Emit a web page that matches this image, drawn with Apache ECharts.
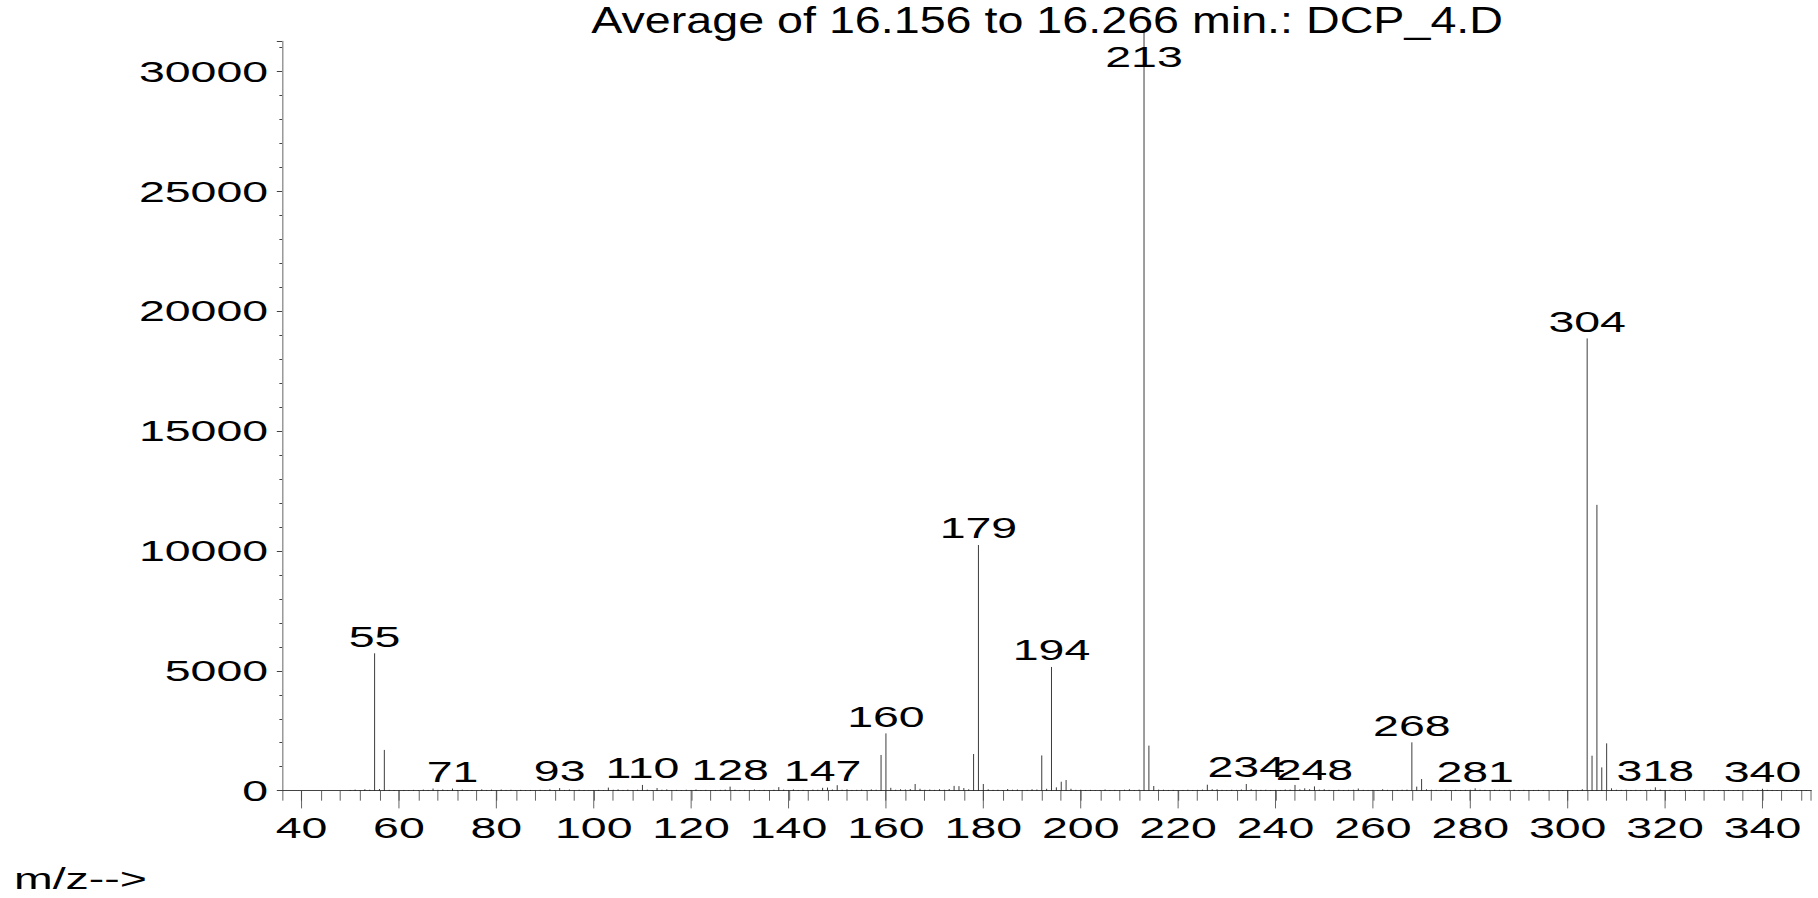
<!DOCTYPE html>
<html>
<head>
<meta charset="utf-8">
<script src="https://cdn.jsdelivr.net/npm/echarts@6/dist/echarts.min.js"></script>
<style>
html, body { margin: 0; padding: 0; background: #fff; overflow: hidden; width: 1818px; height: 898px; }
#chart { width: 1173px; height: 898px; transform: scaleX(1.549872); transform-origin: 0 0; }
</style>
</head>
<body>
<div id="chart"></div>
<script>
// ---------------- data ----------------
const TITLE = 'Average of 16.156 to 16.266 min.: DCP_4.D';
const X_NAME = 'm/z-->';

// main peaks (m/z, abundance)
const peakMz        = [55, 57, 67, 71, 93, 103, 110, 113, 128, 138, 147, 148, 150, 159, 160, 161, 163, 166, 174, 175, 176, 178, 179, 180, 185, 192, 194, 195, 196, 197, 213, 214, 215, 226, 234, 244, 246, 248, 257, 262, 268, 269, 270, 281, 304, 305, 306, 307, 308, 309, 318, 340];
const peakIntensity = [5730, 1700, 90, 90, 110, 130, 240, 110, 170, 150, 120, 130, 230, 1490, 2390, 120, 60, 280, 200, 190, 110, 1530, 10245, 280, 70, 1470, 5160, 140, 375, 445, 31640, 1880, 195, 250, 280, 240, 100, 180, 90, 60, 2016, 170, 486, 100, 18860, 1460, 11920, 972, 1974, 100, 140, 80];

// small background peaks along the baseline
const noiseMz        = [50, 51, 52, 53, 54, 56, 58, 59, 60, 61, 62, 63, 64, 65, 66, 68, 69, 70, 72, 73, 74, 75, 76, 77, 78, 79, 80, 81, 82, 83, 84, 85, 86, 87, 88, 89, 90, 91, 92, 94, 95, 96, 97, 98, 99, 100, 101, 102, 104, 105, 106, 107, 108, 109, 111, 112, 114, 115, 116, 117, 118, 119, 120, 121, 122, 123, 124, 125, 126, 127, 129, 130, 131, 132, 133, 134, 135, 136, 137, 139, 140, 141, 142, 143, 144, 145, 146, 149, 151, 152, 153, 154, 155, 156, 157, 158, 162, 164, 165, 167, 168, 169, 170, 171, 172, 173, 177, 181, 182, 183, 184, 186, 187, 188, 189, 190, 191, 193, 198, 199, 200, 201, 202, 203, 204, 205, 206, 207, 208, 209, 210, 211, 212, 216, 217, 218, 219, 220, 221, 222, 223, 224, 225, 227, 228, 229, 230, 231, 232, 233, 235, 236, 237, 238, 239, 240, 241, 242, 243, 245, 247, 249, 250, 251, 252, 253, 254, 255, 256, 258, 259, 260, 261, 263, 264, 265, 266, 267, 271, 272, 273, 274, 275, 276, 277, 278, 279, 280, 282, 283, 284, 285, 286, 287, 288, 289, 290, 291, 292, 293, 294, 295, 296, 297, 298, 299, 300, 301, 302, 303, 310, 311, 312, 313, 314, 315, 316, 317, 319, 320, 321, 322, 323, 324, 325, 326, 327, 328, 329, 330, 331, 332, 333, 334, 335, 336, 337, 338, 339, 341, 342, 343, 344, 345, 346, 347, 348, 349];
const noiseIntensity = [30, 45, 25, 60, 40, 70, 35, 30, 25, 30, 20, 35, 25, 45, 30, 35, 50, 30, 30, 45, 25, 30, 25, 55, 30, 45, 25, 50, 30, 40, 25, 35, 25, 30, 20, 35, 25, 60, 30, 30, 50, 25, 40, 30, 25, 30, 35, 25, 40, 55, 30, 45, 25, 40, 45, 30, 40, 55, 30, 35, 25, 40, 30, 50, 25, 35, 25, 30, 35, 45, 40, 30, 35, 25, 50, 30, 35, 25, 40, 45, 30, 55, 30, 35, 25, 45, 40, 50, 40, 60, 30, 35, 45, 30, 55, 40, 40, 50, 70, 80, 40, 50, 35, 60, 40, 70, 60, 60, 35, 40, 30, 40, 50, 30, 35, 60, 50, 80, 80, 35, 40, 30, 35, 25, 30, 50, 30, 35, 25, 40, 60, 30, 45, 45, 40, 30, 35, 25, 30, 40, 30, 35, 45, 60, 60, 35, 30, 40, 35, 50, 60, 40, 35, 40, 30, 35, 30, 50, 45, 55, 60, 45, 60, 35, 30, 40, 30, 35, 40, 35, 30, 35, 30, 35, 30, 35, 40, 45, 60, 40, 35, 30, 40, 30, 35, 30, 35, 40, 40, 35, 30, 40, 35, 30, 35, 40, 30, 35, 30, 30, 35, 30, 30, 25, 30, 25, 30, 25, 30, 60, 40, 35, 40, 30, 35, 30, 35, 40, 45, 30, 35, 30, 30, 35, 30, 30, 25, 30, 25, 30, 30, 25, 30, 25, 30, 25, 30, 25, 35, 35, 30, 25, 30, 30, 25, 30, 25, 25];

// peaks that carry an m/z label
const labeledMz = [55, 71, 93, 110, 128, 147, 160, 179, 194, 213, 234, 248, 268, 281, 304, 318, 340];

// axes
const xMajorTicks = [40, 60, 80, 100, 120, 140, 160, 180, 200, 220, 240, 260, 280, 300, 320, 340];
const X_MIN = 36, X_MAX = 350, X_MINOR = 4;
const Y_MIN = 0, Y_MAX = 31250, Y_STEP = 5000;

// ---------------- chart ----------------
const SX = 1818 / 1173;              // horizontal stretch of the original picture
const FONT = '"Liberation Sans", Arial, sans-serif';
const NARROW = '"Liberation Sans Narrow", "Arial Narrow", "Liberation Sans", sans-serif';
const AXIS_COLOR = '#444';

const labelSet = new Set(labeledMz);
const spectrum = [];
noiseMz.forEach((m, i) => spectrum.push([m, noiseIntensity[i], 0]));
peakMz.forEach((m, i) => spectrum.push([m, peakIntensity[i], labelSet.has(m) ? 1 : 0]));

const chart = echarts.init(document.getElementById('chart'), null, { renderer: 'svg' });

chart.setOption({
  animation: false,
  backgroundColor: '#fff',
  grid: { left: 182.0, right: 4.4, top: 41.3, bottom: 107.3, containLabel: false, outerBoundsMode: 'none' },
  graphic: [
    { type: 'text', x: 675.6, y: 20.8, scaleX: 0.836, silent: true,
      style: { text: TITLE, align: 'center', verticalAlign: 'middle', fontSize: 36, fontFamily: NARROW, fill: '#000' } },
    { type: 'text', x: 9, y: 878.6, silent: true,
      style: { text: X_NAME, align: 'left', verticalAlign: 'middle', fontSize: 30, fontFamily: FONT, fill: '#000' } }
  ],
  xAxis: {
    type: 'value', min: X_MIN, max: X_MAX, interval: X_MINOR,
    splitLine: { show: false },
    axisLine: { show: true, onZero: false, lineStyle: { color: AXIS_COLOR, width: 1 } },
    axisTick: { show: true, length: 10, lineStyle: { color: AXIS_COLOR, width: 1 / SX } },
    axisLabel: {
      show: true, margin: 22, fontSize: 30, lineHeight: 30, fontFamily: FONT, color: '#000',
      formatter: v => (xMajorTicks.indexOf(v) >= 0 ? String(v) : '')
    }
  },
  yAxis: {
    type: 'value', min: Y_MIN, max: Y_MAX, interval: Y_STEP,
    splitLine: { show: false },
    axisLine: { show: true, lineStyle: { color: AXIS_COLOR, width: 1 / SX } },
    axisTick: { show: true, length: 3.4, lineStyle: { color: AXIS_COLOR, width: 1 } },
    minorTick: { show: true, splitNumber: 5, length: 1.75, lineStyle: { color: AXIS_COLOR, width: 1 } },
    axisLabel: {
      show: true, margin: 9, fontSize: 30, fontFamily: FONT, color: '#000',
      formatter: v => (v % Y_STEP === 0 ? String(v) : '')
    }
  },
  series: [
    {
      type: 'custom', name: 'major ticks', silent: true, clip: false, z: 3,
      data: xMajorTicks.map(v => [v, 0]),
      encode: { x: 0, y: 1 },
      renderItem: function (params, api) {
        const p = api.coord([api.value(0), 0]);
        return { type: 'line', shape: { x1: p[0], y1: p[1], x2: p[0], y2: p[1] + 17.7 },
                 style: { stroke: AXIS_COLOR, lineWidth: 1 / SX } };
      }
    },
    {
      type: 'custom', name: 'spectrum', silent: true, clip: false, z: 4,
      data: spectrum,
      encode: { x: 0, y: 1 },
      renderItem: function (params, api) {
        const m = api.value(0), v = api.value(1), lab = api.value(2);
        const p0 = api.coord([m, 0]);
        const p1 = api.coord([m, v]);
        const children = [{
          type: 'line',
          shape: { x1: p0[0], y1: p0[1], x2: p1[0], y2: p1[1] },
          style: { stroke: '#111', lineWidth: 1 / SX }
        }];
        if (lab) {
          const topY = api.coord([m, Y_MAX])[1];
          const yMid = Math.max(p1[1] - 17, topY + 15.3);
          children.push({
            type: 'text',
            style: { text: String(m), x: p0[0], y: yMid, align: 'center', verticalAlign: 'middle',
                     fontSize: 30, fontFamily: FONT, fill: '#000' }
          });
        }
        return { type: 'group', children: children };
      }
    }
  ]
});
</script>
</body>
</html>
